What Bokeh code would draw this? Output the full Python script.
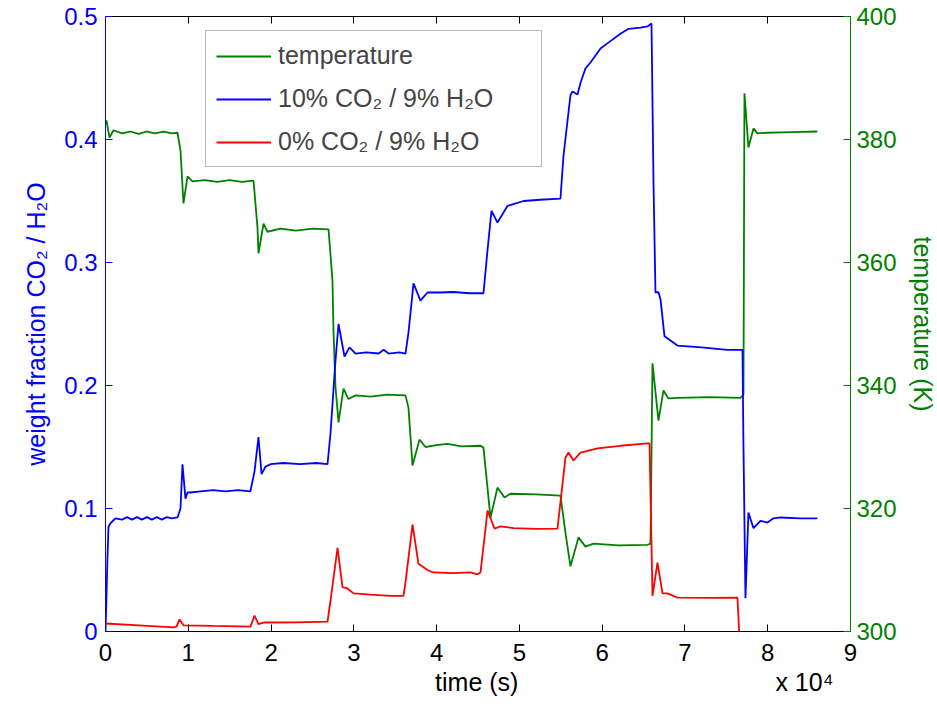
from bokeh.plotting import figure
from bokeh.models import Range1d, LinearAxis, FixedTicker, Legend, LegendItem
from bokeh.embed import file_html
from bokeh.resources import INLINE

# ---------------- data ----------------
time_ticks = [0, 10000, 20000, 30000, 40000, 50000, 60000, 70000, 80000, 90000]
time_tick_labels = ["0", "1", "2", "3", "4", "5", "6", "7", "8", "9"]
time_title = "time (s)"
time_multiplier = "x 10\u2074"
wf_ticks = [0, 0.1, 0.2, 0.3, 0.4, 0.5]
wf_tick_labels = ["0", "0.1", "0.2", "0.3", "0.4", "0.5"]
temp_ticks = [300, 320, 340, 360, 380, 400]

# 10% CO2 / 9% H2O : (time s, weight fraction)
co2_10 = [
    (0, 0.0), (240, 0.06), (360, 0.085), (600, 0.088), (1200, 0.092), (2000, 0.091),
    (2600, 0.093), (3200, 0.091), (3800, 0.093), (4400, 0.091), (5000, 0.093),
    (5600, 0.091), (6200, 0.093), (6800, 0.091), (7400, 0.093), (8000, 0.092),
    (8700, 0.0927), (9060, 0.10), (9300, 0.136), (9660, 0.108), (9900, 0.113),
    (10270, 0.113), (11500, 0.114), (13000, 0.115), (14500, 0.114), (16000, 0.115),
    (17500, 0.114), (18000, 0.13), (18480, 0.158), (18850, 0.128), (19330, 0.134),
    (19930, 0.136), (21500, 0.137), (23500, 0.136), (25500, 0.137), (26820, 0.136),
    (27180, 0.161), (27780, 0.22), (28150, 0.250), (28870, 0.2236), (29480, 0.231),
    (30200, 0.226), (31500, 0.227), (33000, 0.226), (33600, 0.229), (34200, 0.226),
    (35500, 0.227), (36240, 0.226), (36600, 0.243), (37210, 0.283), (38050, 0.269),
    (38900, 0.2756), (40470, 0.2756), (42000, 0.276), (44000, 0.275), (45660, 0.275),
    (46150, 0.31), (46630, 0.342), (47350, 0.3325), (48560, 0.346), (50500, 0.350),
    (52500, 0.351), (54960, 0.352), (55330, 0.387), (56170, 0.436), (56410, 0.439),
    (57020, 0.4366), (57380, 0.446), (57980, 0.4577), (58590, 0.4626), (59800, 0.474),
    (61000, 0.480), (62210, 0.486), (63180, 0.490), (64630, 0.491), (65470, 0.4919),
    (65960, 0.4943), (66200, 0.365), (66440, 0.2756), (66800, 0.276), (67050, 0.27),
    (67530, 0.24), (69100, 0.2325), (72000, 0.231), (75140, 0.229), (76700, 0.229),
    (76950, 0.229), (77070, 0.15), (77310, 0.027), (77670, 0.0967), (78280, 0.084),
    (79120, 0.090), (79970, 0.0886), (80700, 0.092), (81540, 0.0927), (83950, 0.092),
    (86000, 0.092),
]

# 0% CO2 / 9% H2O : (time s, weight fraction)
co2_0 = [
    (0, 0.0065), (4000, 0.005), (8220, 0.0033), (8580, 0.004), (8940, 0.0098),
    (9420, 0.005), (13000, 0.0045), (17520, 0.004), (18000, 0.013), (18480, 0.006),
    (19090, 0.0073), (23000, 0.0075), (26820, 0.008), (27180, 0.025), (28030, 0.068),
    (28630, 0.036), (29230, 0.035), (29960, 0.031), (32000, 0.030), (34430, 0.029),
    (36000, 0.029), (36240, 0.04), (37090, 0.087), (37810, 0.055), (38900, 0.050),
    (39620, 0.048), (42000, 0.0475), (44090, 0.048), (44940, 0.0465), (45300, 0.048),
    (45900, 0.083), (46150, 0.0984), (46990, 0.0837), (47720, 0.0854), (49290, 0.084),
    (52000, 0.0835), (54600, 0.0837), (55210, 0.12), (55570, 0.1415), (55930, 0.1455),
    (56540, 0.139), (57380, 0.1455), (59430, 0.1488), (62210, 0.151), (65470, 0.153),
    (65720, 0.153), (66080, 0.029), (66680, 0.056), (67290, 0.031), (67890, 0.031),
    (69100, 0.0276), (73000, 0.0274), (76340, 0.0276), (76550, 0.0),
]

# temperature : (time s, K)
temperature = [
    (0, 382.5), (120, 383.1), (480, 380.3), (970, 381.5), (2000, 381.0), (3000, 381.3),
    (4000, 380.9), (5000, 381.3), (6000, 381.0), (7000, 381.3), (8000, 381.0),
    (8700, 381.1), (9060, 378.2), (9420, 369.6), (9910, 374.0), (10510, 373.2),
    (12000, 373.4), (13500, 373.1), (15000, 373.4), (16500, 373.1), (17880, 373.3),
    (18360, 365.7), (18480, 361.5), (19090, 366.3), (19570, 365.0), (21140, 365.5),
    (23000, 365.2), (25000, 365.5), (26940, 365.4), (27420, 357.1), (27540, 349.0),
    (27780, 339.8), (28150, 334.0), (28750, 339.5), (29350, 337.8), (30200, 338.4),
    (32000, 338.2), (34000, 338.5), (36240, 338.4), (36600, 336.4), (37090, 327.0),
    (37930, 331.2), (38660, 330.0), (40000, 330.3), (41310, 330.5), (43000, 330.1),
    (45300, 330.2), (45660, 329.9), (46510, 318.5), (47350, 323.4), (48200, 321.8),
    (48930, 322.4), (52000, 322.3), (54960, 322.1), (55570, 316.0), (56170, 310.6),
    (57140, 315.3), (57980, 313.8), (58950, 314.3), (62000, 314.0), (65470, 314.1),
    (65840, 314.3), (66080, 343.6), (66800, 334.3), (67410, 339.2), (68000, 337.9),
    (69100, 338.0), (73000, 338.1), (76710, 338.0), (77070, 338.5), (77190, 387.5),
    (77670, 378.7), (78280, 381.8), (78760, 381.0), (79970, 381.1), (83000, 381.2),
    (86000, 381.3),
]

BLUE = "#0000ff"
GREEN = "#008000"
RED = "#ff0000"
FONT = "Liberation Sans"
FS = "24px"
FS_LABEL = "25px"

p = figure(frame_width=745, frame_height=615,
           x_range=Range1d(0, 90000), y_range=Range1d(0, 0.5),
           x_axis_type=None, y_axis_type=None,
           output_backend="svg", toolbar_location=None,
           min_border_left=105, min_border_right=86,
           min_border_top=16, min_border_bottom=75)
p.outline_line_color = None
p.background_fill_color = "white"
p.border_fill_color = "white"
p.extra_y_ranges = {"temp": Range1d(300, 400)}

def style(ax, color):
    ax.axis_line_color = color
    ax.major_tick_line_color = color
    ax.major_tick_in = 7
    ax.major_tick_out = 0
    ax.minor_tick_line_color = None
    ax.major_label_text_color = color
    ax.major_label_text_font = FONT
    ax.major_label_text_font_size = FS
    ax.axis_label_text_color = color
    ax.axis_label_text_font = FONT
    ax.axis_label_text_font_size = FS_LABEL
    ax.axis_label_text_font_style = "normal"

# "time (s)" centred under the axis, the "x 10^4" multiplier at the right end
NB = "\u00a0"
bottom_label = NB * 45 + time_title + NB * 37 + time_multiplier
bottom = LinearAxis(ticker=FixedTicker(ticks=time_ticks),
                    major_label_overrides=dict(zip(time_ticks, time_tick_labels)),
                    axis_label=bottom_label)
style(bottom, "black")
bottom.major_label_standoff = 12
bottom.axis_label_standoff = 4
p.add_layout(bottom, "below")

top = LinearAxis(ticker=FixedTicker(ticks=time_ticks))
style(top, "black")
top.major_label_text_font_size = "1px"
top.major_label_text_color = None
top.major_label_standoff = 0
p.add_layout(top, "above")

left = LinearAxis(ticker=FixedTicker(ticks=wf_ticks),
                  major_label_overrides=dict(zip(wf_ticks, wf_tick_labels)),
                  axis_label="weight fraction CO\u2082 / H\u2082O")
style(left, BLUE)
left.major_label_standoff = 8
left.axis_label_standoff = 11
p.add_layout(left, "left")

right = LinearAxis(y_range_name="temp", ticker=FixedTicker(ticks=temp_ticks),
                   axis_label="temperature (K)")
style(right, GREEN)
right.major_label_standoff = 6
right.axis_label_standoff = 9
p.add_layout(right, "right")

r_temp = p.line([a for a, b in temperature], [b for a, b in temperature],
                y_range_name="temp", line_color=GREEN, line_width=1.8)
r_10 = p.line([a for a, b in co2_10], [b for a, b in co2_10],
              line_color=BLUE, line_width=1.8)
r_0 = p.line([a for a, b in co2_0], [b for a, b in co2_0],
             line_color=RED, line_width=1.8)

legend = Legend(items=[
    LegendItem(label="temperature", renderers=[r_temp]),
    LegendItem(label="10% CO\u2082 / 9% H\u2082O", renderers=[r_10]),
    LegendItem(label="0% CO\u2082 / 9% H\u2082O", renderers=[r_0]),
], location=(100, 464))
legend.label_text_font = FONT
legend.label_text_font_size = "25px"
legend.glyph_width = 55
legend.glyph_height = 24
legend.label_height = 24
legend.label_width = 253
legend.label_standoff = 7
legend.spacing = 14
legend.padding = 10
legend.margin = 0
legend.border_line_color = "#777777"
legend.border_line_width = 1
legend.background_fill_color = "white"
legend.background_fill_alpha = 1.0
p.add_layout(legend)

open("out.html", "w").write(file_html(p, INLINE))
